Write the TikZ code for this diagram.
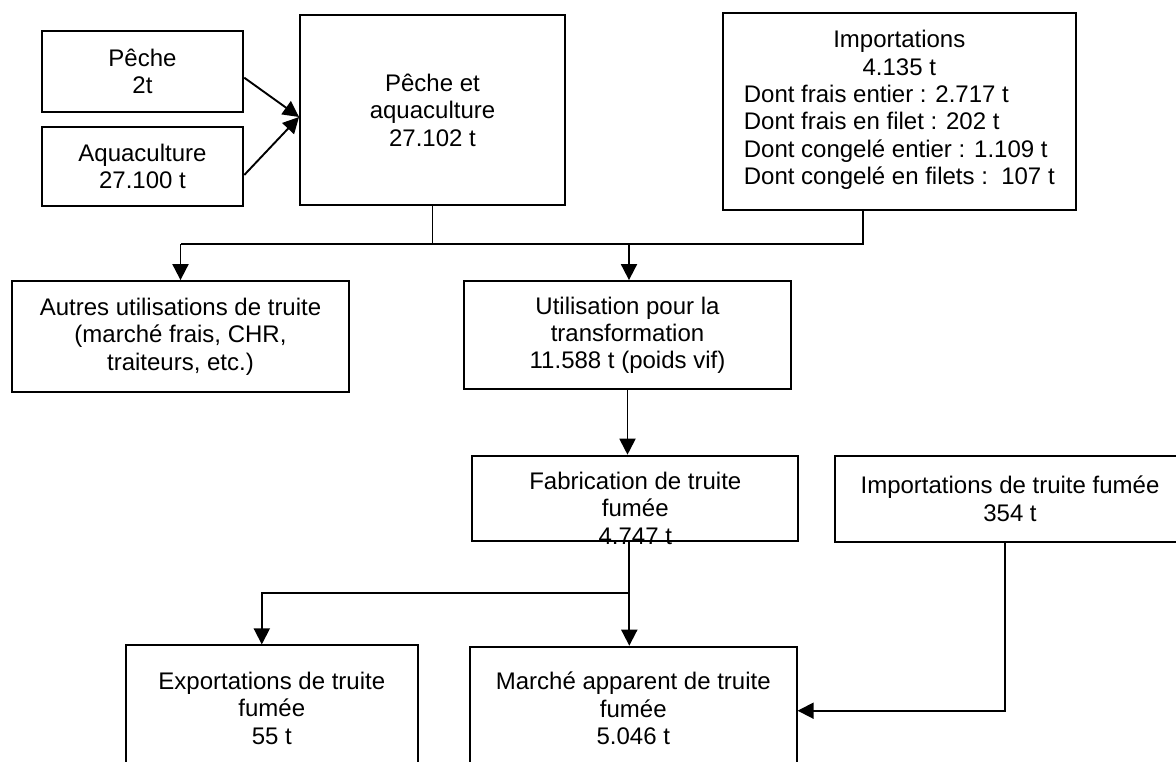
\documentclass[tikz,border=0pt]{standalone}
\usepackage{fontspec}
\setmainfont{Liberation Sans}
\usetikzlibrary{arrows.meta}

\begin{document}
\begin{tikzpicture}[x=1pt,y=-1pt,
  box/.style={draw, line width=1.9pt, inner sep=0pt, align=center,
              font=\fontsize{24}{27.4}\selectfont},
  txt/.style={inner sep=0pt, align=center, font=\fontsize{24}{27.4}\selectfont},
  link/.style={line width=1.9pt},
  flow/.style={line width=1.9pt, -{Triangle[length=16pt,width=16pt]}}]

\useasboundingbox (0,0) rectangle (1176,762);
\clip (0,0) rectangle (1176,762);

% --- sources ---
\node[box, minimum width=201.6pt, minimum height=80.7pt] (peche) at (142.5,71.3)
  {Pêche\\2t};
\node[box, minimum width=201.6pt, minimum height=79.3pt] (aqua) at (142.5,166.3)
  {Aquaculture\\27.100 t};
\node[box, minimum width=265pt, minimum height=190pt] (pa) at (432.5,110)
  {Pêche et\\aquaculture\\27.102 t};
\node[box, minimum width=353.3pt, minimum height=196.7pt] (imp) at (899.3,111.7)
  {Importations\\4.135 t\\%
   \begin{tabular}[t]{@{}l@{}}
   Dont frais entier : 2.717 t\\
   Dont frais en filet : 202 t\\
   Dont congelé entier : 1.109 t\\
   Dont congelé en filets :~~107 t
   \end{tabular}};

% --- uses ---
\node[box, minimum width=337.6pt, minimum height=111.3pt] (autres) at (180.5,336.7)
  {Autres utilisations de truite\\(marché frais, CHR,\\traiteurs, etc.)};
\node[box, minimum width=326.4pt, minimum height=108.3pt] (util) at (627.5,335.2)
  {Utilisation pour la\\transformation\\11.588 t (poids vif)};

% --- smoked trout ---
\node[box, minimum width=326pt, minimum height=85.3pt] (fab) at (635.3,498.3) {};
\node[txt, anchor=north] (fabtxt) at ([yshift=-17pt]fab.north)
  {Fabrication de truite\\fumée\\4.747 t};
\node[box, minimum width=350pt, minimum height=86pt] (impf) at (1010,498.7)
  {Importations de truite fumée\\354 t};
\node[box, minimum width=291.7pt, minimum height=125.7pt] (export) at (271.8,708.2)
  {Exportations de truite\\fumée\\55 t};
\node[box, minimum width=326.7pt, minimum height=123.3pt] (marche) at (633.3,708.3)
  {Marché apparent de truite\\fumée\\5.046 t};

% --- connectors ---
\draw[flow] ([yshift=-6.4pt]peche.east) -- ([yshift=-7pt]pa.west);
\draw[flow] ([yshift=-8.7pt]aqua.east) -- ([yshift=-7pt]pa.west);

\coordinate (busL) at (180.5,244);
\coordinate (busR) at (863,244);
\draw[link] (pa.south) -- (pa.south |- busL);
\draw[link] ([xshift=-36.3pt]imp.south) -- (busR) -- (busL);
\draw[flow] (busL) -- (autres.north);
\draw[flow] ([xshift=1.5pt]util.north |- busL) -- ([xshift=1.5pt]util.north);

\draw[flow] (util.south) -- (util.south |- fab.north);

\draw[flow] ([xshift=-6pt]fab.south) -- ([xshift=-6pt]fab.south |- marche.north);
\coordinate (split) at (629.3,593.3);
\draw[flow] (split) -| ([xshift=-10pt]export.north);

\draw[flow] ([xshift=-5.3pt]impf.south) |- ([yshift=-2.4pt]marche.east);

\end{tikzpicture}
\end{document}
